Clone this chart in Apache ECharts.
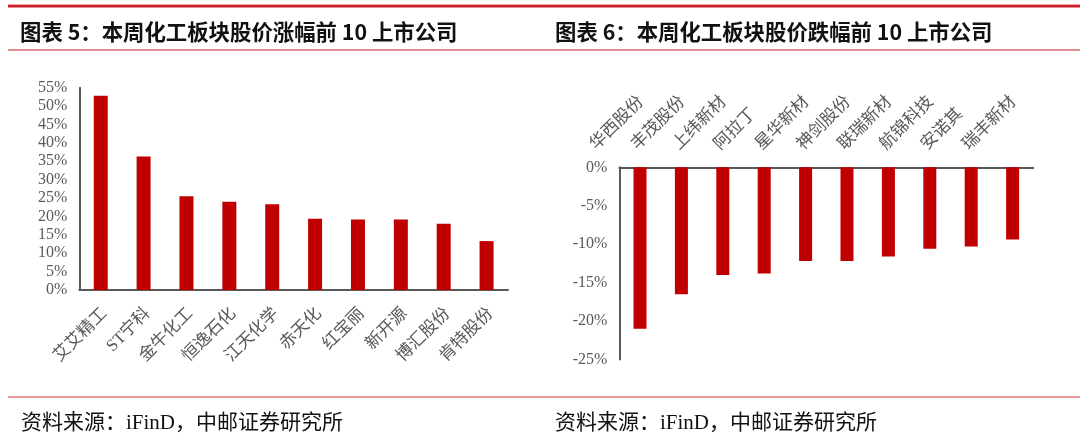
<!DOCTYPE html>
<html>
<head>
<meta charset="utf-8">
<script src="https://cdn.jsdelivr.net/npm/echarts@6/dist/echarts.min.js"></script>
<style>
html,body{margin:0;padding:0;background:#fff;}
#chart{width:1080px;height:435px;}
</style>
</head>
<body>
<div id="chart"></div>
<script>
// ---- data ----
var gainNames = ['艾艾精工','ST宁科','金牛化工','恒逸石化','江天化学','赤天化','红宝丽','新开源','博汇股份','肯特股份'];
var gainValues = [52.8, 36.3, 25.5, 24.0, 23.3, 19.4, 19.2, 19.2, 18.0, 13.3];
var lossNames = ['华西股份','丰茂股份','上纬新材','阿拉丁','星华新材','神剑股份','联瑞新材','航锦科技','安诺其','瑞丰新材'];
var lossValues = [-21.0, -16.5, -14.0, -13.8, -12.2, -12.2, -11.6, -10.6, -10.3, -9.4];
var titleLeft = '图表 5：本周化工板块股价涨幅前 10 上市公司';
var titleRight = '图表 6：本周化工板块股价跌幅前 10 上市公司';
var sourceText = '资料来源：iFinD，中邮证券研究所';

var numFont = '"Liberation Serif","Times New Roman",serif';
var cjkFont = '"Liberation Serif","Noto Sans CJK SC",serif';
var gray = '#595959';
var red = '#c00000';
var lineRed = '#d01f2a';

var chart = echarts.init(document.getElementById('chart'), null, {renderer:'canvas'});
var option = {
  animation: false,
  backgroundColor: '#fff',
  title: [
    {text: titleLeft, left: 15, top: 16, textStyle:{fontFamily:'"Noto Sans CJK SC",sans-serif', fontWeight:'bold', fontSize:21.4, color:'#111'}},
    {text: titleRight, left: 550, top: 16, textStyle:{fontFamily:'"Noto Sans CJK SC",sans-serif', fontWeight:'bold', fontSize:21.4, color:'#111'}},
    {text: sourceText, left: 16, top: 408, textStyle:{fontFamily:cjkFont, fontWeight:'normal', fontSize:21, color:'#111'}},
    {text: sourceText, left: 550, top: 408, textStyle:{fontFamily:cjkFont, fontWeight:'normal', fontSize:21, color:'#111'}}
  ],
  graphic: [
    {type:'rect', shape:{x:8, y:4, width:1072, height:1}, style:{fill:'#eba7aa'}, silent:true},
    {type:'rect', shape:{x:8, y:5, width:1072, height:2.5}, style:{fill:lineRed}, silent:true},
    {type:'rect', shape:{x:8, y:49.5, width:1072, height:1}, style:{fill:lineRed}, silent:true},
    {type:'rect', shape:{x:8, y:396.5, width:1072, height:1}, style:{fill:'#c8302f'}, silent:true}
  ],
  grid: [
    {left: 79.3, right: 572, top: 87.7, bottom: 145},
    {left: 619.3, right: 46.7, top: 167.3, bottom: 75.5},
    {left: 572.3, right: 93.7, top: 167.3, bottom: 75.5},
    {left: 83.3, right: 568, top: 87.7, bottom: 145}
  ],
  xAxis: [
    {type:'category', gridIndex:0, data: gainNames,
     axisLine:{show:true, lineStyle:{color:gray, width:2}}, axisTick:{show:false},
     axisLabel:{show:false}},
    {type:'category', gridIndex:1, data: lossNames, position:'top',
     axisLine:{show:true, onZero:false, lineStyle:{color:gray, width:2}}, axisTick:{show:false},
     axisLabel:{show:false}},
    {type:'category', gridIndex:2, data: lossNames, position:'top',
     axisLine:{show:false}, axisTick:{show:false},
     axisLabel:{interval:0, rotate:45, margin:20, color:gray, fontSize:17, fontFamily:cjkFont}},
    {type:'category', gridIndex:3, data: gainNames,
     axisLine:{show:false}, axisTick:{show:false},
     axisLabel:{interval:0, rotate:45, margin:21, color:gray, fontSize:17, fontFamily:cjkFont}}
  ],
  yAxis: [
    {type:'value', gridIndex:0, min:0, max:55, interval:5,
     axisLine:{show:true, lineStyle:{color:gray, width:2}}, axisTick:{show:false}, splitLine:{show:false},
     axisLabel:{formatter:'{value}%', margin:12, color:gray, fontSize:16, fontFamily:numFont}},
    {type:'value', gridIndex:1, min:-25, max:0, interval:5,
     axisLine:{show:true, lineStyle:{color:gray, width:2}}, axisTick:{show:false}, splitLine:{show:false},
     axisLabel:{formatter:'{value}%', margin:12, color:gray, fontSize:16, fontFamily:numFont}},
    {type:'value', gridIndex:2, min:-25, max:0, show:false, splitLine:{show:false}},
    {type:'value', gridIndex:3, min:0, max:55, show:false, splitLine:{show:false}}
  ],
  series: [
    {type:'bar', xAxisIndex:0, yAxisIndex:0, data: gainValues, barWidth:14, itemStyle:{color:red}},
    {type:'bar', xAxisIndex:1, yAxisIndex:1, data: lossValues, barWidth:13, itemStyle:{color:red}}
  ]
};
chart.setOption(option);
</script>
</body>
</html>
